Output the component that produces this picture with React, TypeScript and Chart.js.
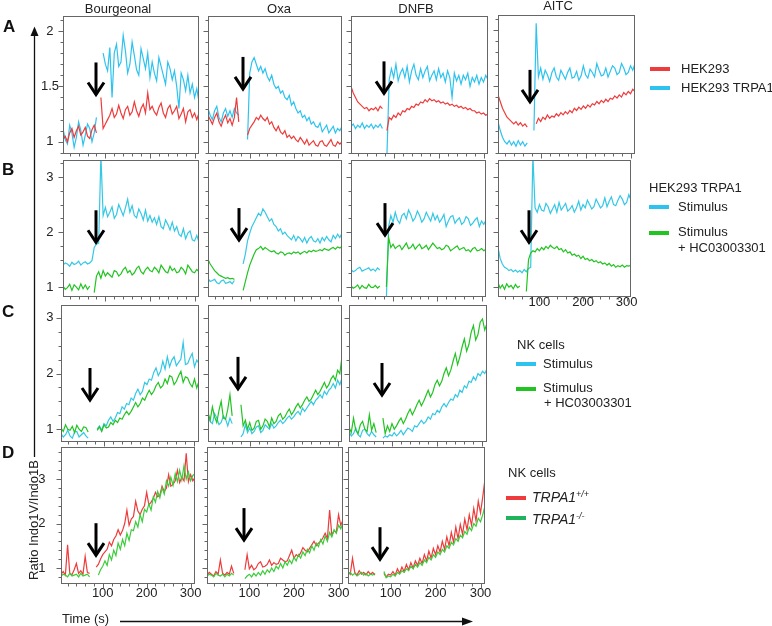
import React, { useEffect, useRef } from 'react';
import { Chart, registerables } from 'chart.js';

Chart.register(...registerables);

// ---------- data ----------
const TIME = [
  5, 10, 15, 20, 25, 30, 35, 40, 45, 50,
  55, 60, 65, 70, 75, 80, 85, 90, 95, 100,
  105, 110, 115, 120, 125, 130, 135, 140, 145, 150,
  155, 160, 165, 170, 175, 180, 185, 190, 195, 200,
  205, 210, 215, 220, 225, 230, 235, 240, 245, 250,
  255, 260, 265, 270, 275, 280, 285, 290, 295, 300,
  305, 310,
];

const X_TICKS = [100, 200, 300];
const Y_TICKS_A = [1, 1.5, 2];
const Y_TICKS_BCD = [1, 2, 3];

const COLUMN_TITLES = ['Bourgeonal', 'Oxa', 'DNFB', 'AITC'];

// Row A: HEK293 (red) / HEK293 TRPA1 (blue)
const A1_HEK293 = [
  1.02, 1.05, 1.00, 1.08, 1.12, 1.04, 1.10, 1.14, 1.06, 1.09,
  1.13, 1.05, 1.03, 1.11, 1.15, 1.08, null, 1.40, 1.12, 1.16,
  1.20, 1.24, 1.30, 1.22, 1.25, 1.33, 1.26, 1.21, 1.29, 1.32,
  1.24, 1.27, 1.36, 1.28, 1.23, 1.30, 1.34, 1.26, 1.44, 1.29,
  1.32, 1.27, 1.24, 1.31, 1.35, 1.26, 1.22, 1.30, 1.33, 1.25,
  1.28, 1.32, 1.21, 1.25, 1.30, 1.18, 1.27, 1.29, 1.22, 1.26,
  1.20, 1.26,
];
const A1_TRPA1 = [
  1.12, 1.02, 0.98, 1.15, 1.08, 0.95, 1.04, 1.18, 1.10, 0.97,
  1.06, 1.16, 1.12, 1.00, 1.08, 1.22, null, null, 1.80, 1.70,
  1.64, 1.85, 1.40, 1.80, 1.88, 1.68, 1.72, 1.96, 1.82, 1.62,
  1.70, 1.90, 1.78, 1.65, 1.60, 1.84, 1.75, 1.66, 1.80, 1.58,
  1.72, 1.62, 1.55, 1.76, 1.68, 1.60, 1.52, 1.72, 1.66, 1.56,
  1.64, 1.50, 1.30, 1.62, 1.56, 1.46, 1.60, 1.44, 1.52, 1.40,
  1.48, 1.36,
];
const A2_HEK293 = [
  1.24, 1.20, 1.16, 1.22, 1.26, 1.18, 1.14, 1.20, 1.24, 1.17,
  1.21, 1.15, 1.22, 1.40, 1.18, null, null, null, 1.06, 1.12,
  1.15, 1.18, 1.22, 1.20, 1.24, 1.21, 1.19, 1.22, 1.16, 1.18,
  1.13, 1.10, 1.14, 1.09, 1.07, 1.10, 1.04, 1.06, 1.03, 1.05,
  1.02, 1.00, 1.04, 1.01, 0.98, 1.02, 0.97, 0.99, 1.01, 0.97,
  0.96, 1.00, 1.01, 0.97, 0.96, 0.99, 1.02, 0.97, 0.96, 1.00,
  0.98, 1.00,
];
const A2_TRPA1 = [
  1.30, 1.24, 1.20, 1.28, 1.32, 1.22, 1.18, 1.26, 1.30, 1.23,
  1.28, 1.22, 1.30, 1.26, 1.24, null, null, null, 1.02, 1.62,
  1.72, 1.76, 1.70, 1.64, 1.68, 1.62, 1.66, 1.59, 1.55, 1.60,
  1.52, 1.48, 1.50, 1.44, 1.46, 1.40, 1.38, 1.42, 1.33, 1.36,
  1.30, 1.26, 1.28, 1.22, 1.24, 1.19, 1.22, 1.16, 1.18, 1.14,
  1.13, 1.17, 1.09, 1.12, 1.15, 1.08, 1.11, 1.14, 1.08, 1.12,
  1.10, 1.14,
];
const A3_HEK293 = [
  1.50, 1.44, 1.40, 1.36, 1.34, 1.32, 1.30, 1.31, 1.28, 1.30,
  1.29, 1.31, 1.28, 1.32, 1.30, null, 1.10, 1.22, 1.20, 1.24,
  1.22, 1.26, 1.24, 1.28, 1.27, 1.30, 1.29, 1.32, 1.31, 1.34,
  1.33, 1.36, 1.35, 1.38, 1.36, 1.39, 1.37, 1.38, 1.36, 1.37,
  1.35, 1.36, 1.34, 1.35, 1.33, 1.34, 1.32, 1.33, 1.31, 1.32,
  1.30, 1.31, 1.29, 1.30, 1.28, 1.28, 1.26, 1.27, 1.25, 1.26,
  1.24, 1.25,
];
const A3_TRPA1 = [
  1.14, 1.16, 1.12, 1.15, 1.13, 1.17, 1.12, 1.15, 1.13, 1.16,
  1.12, 1.15, 1.13, 1.16, 1.12, null, 0.88, 1.56, 1.66, 1.58,
  1.70, 1.55, 1.62, 1.66, 1.58, 1.68, 1.54, 1.64, 1.70, 1.60,
  1.56, 1.66, 1.58, 1.64, 1.68, 1.55, 1.60, 1.64, 1.56, 1.66,
  1.58, 1.62, 1.54, 1.64, 1.58, 1.40, 1.62, 1.55, 1.60, 1.52,
  1.60, 1.56, 1.62, 1.50, 1.58, 1.54, 1.60, 1.52, 1.58, 1.54,
  1.60, 1.56,
];
const A4_HEK293 = [
  1.42, 1.36, 1.30, 1.26, 1.22, 1.20, 1.18, 1.16, 1.18, 1.15,
  1.17, 1.14, 1.16, 1.13, null, null, null, 1.16, 1.21, 1.18,
  1.22, 1.20, 1.24, 1.21, 1.23, 1.22, 1.25, 1.23, 1.26, 1.24,
  1.27, 1.25, 1.28, 1.26, 1.30, 1.28, 1.31, 1.29, 1.32, 1.30,
  1.33, 1.31, 1.34, 1.33, 1.36, 1.34, 1.37, 1.35, 1.38, 1.36,
  1.39, 1.38, 1.41, 1.39, 1.42, 1.40, 1.44, 1.42, 1.45, 1.43,
  1.47, 1.45,
];
const A4_TRPA1 = [
  1.18, 1.10, 1.04, 1.00, 0.98, 1.01, 0.97, 1.00, 0.96, 1.01,
  0.97, 1.00, 0.96, 0.99, null, null, 1.10, 2.06, 1.58, 1.66,
  1.56, 1.64, 1.60, 1.54, 1.62, 1.66, 1.58, 1.55, 1.64, 1.60,
  1.56, 1.62, 1.66, 1.57, 1.58, 1.63, 1.55, 1.59, 1.68, 1.60,
  1.57, 1.65, 1.62, 1.58, 1.70, 1.64, 1.59, 1.60, 1.66, 1.58,
  1.63, 1.68, 1.66, 1.60, 1.62, 1.70, 1.66, 1.60, 1.62, 1.68,
  1.64, 1.70,
];

// Row B: HEK293 TRPA1, Stimulus (blue) / Stimulus + HC03003301 (green)
const B1_STIM = [
  1.40, 1.44, 1.42, 1.38, 1.45, 1.41, 1.43, 1.47, 1.40, 1.44,
  1.46, 1.42, 1.44, 1.48, 1.72, 1.78, 1.80, 3.40, 2.30, 2.45,
  2.28, 2.36, 2.46, 2.25, 2.32, 2.50, 2.40, 2.30, 2.44, 2.60,
  2.36, 2.48, 2.30, 2.26, 2.42, 2.34, 2.22, 2.40, 2.20, 2.30,
  2.18, 2.26, 2.14, 2.28, 2.10, 2.06, 2.22, 2.14, 2.04, 2.18,
  2.02, 2.10, 1.96, 1.92, 2.06, 1.88, 1.98, 2.02, 1.86, 1.84,
  1.94, 1.82,
];
const B1_HC = [
  1.02, 0.96, 0.99, 1.05, 0.94, 1.04, 1.00, 0.95, 1.06, 0.97,
  1.04, 0.96, 1.02, null, 0.90, 1.20, 1.28, 1.16, 1.30, 1.20,
  1.26, 1.22, 1.18, 1.30, 1.28, 1.20, 1.24, 1.32, 1.36, 1.26,
  1.30, 1.22, 1.26, 1.34, 1.38, 1.28, 1.24, 1.32, 1.36, 1.30,
  1.28, 1.36, 1.32, 1.26, 1.40, 1.34, 1.28, 1.26, 1.38, 1.30,
  1.34, 1.26, 1.28, 1.36, 1.32, 1.24, 1.40, 1.34, 1.28, 1.26,
  1.32, 1.28,
];
const B2_STIM = [
  1.16, 1.10, 1.12, 1.14, 1.08, 1.06, 1.11, 1.13, 1.07, 1.08,
  1.10, 1.06, 1.12, null, null, null, 1.42, 1.60, 1.84, 1.98,
  2.10, 2.18, 2.26, 2.34, 2.30, 2.42, 2.36, 2.28, 2.20, 2.24,
  2.14, 2.10, 2.02, 2.06, 1.96, 2.00, 1.94, 1.90, 1.86, 1.94,
  1.84, 1.92, 1.88, 1.82, 1.90, 1.80, 1.88, 1.92, 1.84, 1.82,
  1.88, 1.80, 1.90, 1.84, 1.92, 1.86, 1.82, 1.94, 1.88, 1.96,
  1.90, 1.98,
];
const B2_HC = [
  1.50, 1.42, 1.36, 1.30, 1.26, 1.22, 1.20, 1.18, 1.16, 1.17,
  1.15, 1.16, 1.14, null, null, null, 0.94, 1.10, 1.26, 1.40,
  1.50, 1.60, 1.68, 1.70, 1.74, 1.68, 1.72, 1.69, 1.66, 1.64,
  1.66, 1.62, 1.60, 1.64, 1.63, 1.58, 1.61, 1.62, 1.60, 1.64,
  1.62, 1.64, 1.60, 1.63, 1.65, 1.62, 1.66, 1.64, 1.67, 1.65,
  1.66, 1.68, 1.66, 1.70, 1.68, 1.67, 1.70, 1.72, 1.69, 1.73,
  1.71, 1.74,
];
const B3_STIM = [
  1.32, 1.28, 1.30, 1.34, 1.36, 1.29, 1.31, 1.33, 1.35, 1.30,
  1.33, 1.29, 1.35, 1.31, null, null, 0.80, 2.10, 2.30, 2.18,
  2.36, 2.22, 2.16, 2.30, 2.34, 2.24, 2.40, 2.32, 2.20, 2.26,
  2.38, 2.30, 2.18, 2.24, 2.36, 2.28, 2.20, 2.34, 2.22, 2.30,
  2.18, 2.24, 2.32, 2.10, 2.20, 2.28, 2.30, 2.16, 2.22, 2.26,
  2.14, 2.18, 2.28, 2.24, 2.12, 2.16, 2.22, 2.26, 2.10, 2.20,
  2.14, 2.22,
];
const B3_HC = [
  1.02, 0.98, 1.00, 1.04, 0.97, 1.03, 0.99, 0.98, 1.05, 1.00,
  0.99, 1.03, 0.98, 1.02, null, null, 1.00, 1.90, 1.72, 1.78,
  1.70, 1.74, 1.76, 1.68, 1.74, 1.80, 1.70, 1.72, 1.78, 1.69,
  1.74, 1.78, 1.70, 1.72, 1.76, 1.68, 1.74, 1.80, 1.75, 1.70,
  1.72, 1.68, 1.70, 1.76, 1.74, 1.66, 1.69, 1.72, 1.75, 1.68,
  1.70, 1.72, 1.66, 1.68, 1.64, 1.70, 1.72, 1.66, 1.67, 1.70,
  1.66, 1.69,
];
const B4_STIM = [
  1.72, 1.52, 1.42, 1.36, 1.34, 1.30, 1.32, 1.28, 1.31, 1.27,
  1.30, 1.26, 1.32, 1.28, 1.34, 1.36, 3.40, 2.44, 2.36, 2.50,
  2.40, 2.38, 2.52, 2.46, 2.34, 2.42, 2.50, 2.36, 2.54, 2.40,
  2.46, 2.52, 2.38, 2.42, 2.48, 2.36, 2.44, 2.56, 2.40, 2.50,
  2.44, 2.58, 2.50, 2.42, 2.46, 2.60, 2.52, 2.44, 2.48, 2.62,
  2.46, 2.56, 2.64, 2.50, 2.48, 2.58, 2.66, 2.60, 2.50, 2.54,
  2.68, 2.58,
];
const B4_HC = [
  1.08, 0.98, 1.04, 0.96, 1.06, 1.00, 1.03, 0.97, 1.05, 0.99,
  1.02, null, null, 0.92, 1.50, 1.62, 1.66, 1.64, 1.70, 1.66,
  1.72, 1.68, 1.74, 1.70, 1.76, 1.72, 1.70, 1.74, 1.68, 1.70,
  1.64, 1.68, 1.62, 1.64, 1.58, 1.60, 1.56, 1.58, 1.52, 1.56,
  1.50, 1.52, 1.48, 1.50, 1.46, 1.48, 1.44, 1.46, 1.42, 1.44,
  1.40, 1.43, 1.38, 1.41, 1.36, 1.39, 1.37, 1.40, 1.36, 1.39,
  1.38, 1.40,
];

// Row C: NK cells, Stimulus (blue) / Stimulus + HC03003301 (green)
const C1_STIM = [
  0.92, 0.86, 0.90, 0.98, 0.88, 0.84, 0.95, 0.96, 0.86, 0.90,
  0.94, 0.88, 0.84, null, null, null, 1.00, 1.06, 0.98, 1.10,
  1.06, 1.16, 1.22, 1.14, 1.20, 1.30, 1.28, 1.40, 1.36, 1.46,
  1.44, 1.56, 1.52, 1.64, 1.72, 1.62, 1.68, 1.84, 1.80, 1.90,
  1.88, 2.02, 2.10, 1.96, 2.04, 2.22, 2.08, 2.30, 2.12, 2.24,
  2.30, 2.14, 2.20, 2.26, 2.56, 2.16, 2.18, 2.28, 2.36, 2.12,
  2.24, 2.18,
];
const C1_HC = [
  1.02, 0.96, 1.08, 1.00, 0.98, 1.05, 0.94, 1.07, 1.00, 0.96,
  1.04, 1.03, 0.95, null, null, null, 0.98, 1.04, 0.96, 1.08,
  1.02, 1.04, 1.12, 1.08, 1.16, 1.12, 1.20, 1.18, 1.26, 1.32,
  1.26, 1.32, 1.40, 1.48, 1.40, 1.46, 1.56, 1.52, 1.62, 1.70,
  1.62, 1.68, 1.78, 1.84, 1.74, 1.78, 1.90, 1.82, 1.96, 1.94,
  1.80, 1.86, 1.96, 2.04, 1.84, 1.94, 1.92, 1.82, 1.76, 1.90,
  1.74, 1.86,
];
const C2_STIM = [
  1.22, 1.14, 1.10, 1.28, 1.20, 1.08, 1.12, 1.24, 1.18, 1.06,
  1.20, 1.10, null, null, null, 0.86, 0.92, 1.08, 0.94, 1.02,
  0.92, 0.96, 1.04, 1.06, 0.94, 0.98, 1.08, 1.04, 1.00, 1.10,
  1.02, 1.06, 1.12, 1.16, 1.10, 1.14, 1.20, 1.24, 1.18, 1.22,
  1.28, 1.32, 1.26, 1.38, 1.32, 1.38, 1.44, 1.50, 1.44, 1.52,
  1.56, 1.62, 1.56, 1.68, 1.62, 1.70, 1.74, 1.82, 1.74, 1.88,
  1.80, 1.92,
];
const C2_HC = [
  1.30, 1.16, 1.40, 1.22, 1.12, 1.34, 1.50, 1.20, 1.18, 1.36,
  1.62, 1.24, null, null, null, 1.44, 1.06, 1.16, 1.00, 1.12,
  0.98, 1.02, 1.14, 1.16, 1.00, 1.06, 1.18, 1.14, 1.04, 1.20,
  1.10, 1.14, 1.24, 1.28, 1.18, 1.22, 1.30, 1.36, 1.26, 1.32,
  1.40, 1.46, 1.38, 1.44, 1.52, 1.58, 1.50, 1.54, 1.62, 1.70,
  1.62, 1.68, 1.76, 1.84, 1.74, 1.80, 1.90, 1.96, 1.88, 2.06,
  2.00, 2.30,
];
const C3_STIM = [
  0.96, 0.88, 0.92, 1.02, 0.90, 0.86, 0.98, 1.00, 0.92, 0.88,
  0.96, 0.90, 0.86, null, null, 0.84, 0.88, 0.86, 0.90, 0.88,
  0.94, 0.88, 0.92, 0.98, 0.90, 0.96, 1.02, 1.00, 0.96, 1.06,
  1.04, 1.10, 1.16, 1.10, 1.14, 1.22, 1.18, 1.28, 1.26, 1.34,
  1.30, 1.40, 1.46, 1.40, 1.48, 1.54, 1.52, 1.62, 1.58, 1.70,
  1.66, 1.78, 1.74, 1.86, 1.84, 1.94, 1.88, 2.00, 1.96, 2.04,
  2.00, 2.08,
];
const C3_HC = [
  1.04, 0.94, 1.20, 0.98, 0.92, 1.08, 1.14, 1.00, 0.96, 1.26,
  0.98, 1.10, 0.94, null, null, 1.20, 0.92, 1.06, 0.96, 1.10,
  1.00, 1.06, 1.14, 1.20, 1.10, 1.18, 1.28, 1.36, 1.26, 1.34,
  1.44, 1.52, 1.42, 1.50, 1.60, 1.70, 1.58, 1.66, 1.80, 1.88,
  1.78, 1.86, 2.00, 2.10, 1.96, 2.06, 2.22, 2.36, 2.16, 2.30,
  2.48, 2.62, 2.40, 2.52, 2.74, 2.86, 2.60, 2.70, 2.92, 2.98,
  2.78, 2.90,
];

// Row D: NK cells, TRPA1+/+ (red) / TRPA1-/- (green)
const D1_WT = [
  0.86, 0.92, 0.84, 1.52, 0.88, 0.85, 0.96, 1.10, 0.88, 0.94,
  0.86, 1.26, 0.90, 0.88, null, null, 1.02, 1.08, 1.20, 1.30,
  1.36, 1.42, 1.58, 1.50, 1.64, 1.72, 1.86, 1.74, 1.84, 2.00,
  2.30, 1.96, 2.10, 2.16, 2.50, 2.28, 2.20, 2.32, 2.40, 2.70,
  2.42, 2.48, 2.56, 2.70, 2.60, 2.64, 2.84, 2.72, 2.80, 3.10,
  2.84, 2.88, 2.96, 3.20, 2.92, 3.04, 2.96, 3.58, 2.94, 3.10,
  2.96, 3.04,
];
const D1_KO = [
  0.82, 0.86, 0.84, 0.80, 0.88, 0.82, 0.84, 0.86, 0.80, 0.88,
  0.82, 0.84, 0.86, 0.80, null, null, null, 0.84, 0.96, 1.04,
  1.16, 1.06, 1.30, 1.18, 1.40, 1.28, 1.56, 1.42, 1.64, 1.50,
  1.78, 1.62, 1.86, 1.84, 2.04, 1.92, 2.20, 2.04, 2.32, 2.26,
  2.44, 2.30, 2.60, 2.48, 2.72, 2.58, 2.80, 2.66, 2.96, 2.84,
  3.04, 2.86, 3.12, 2.94, 3.20, 2.98, 3.30, 3.00, 3.16, 2.96,
  3.08, 3.12,
];
const D2_WT = [
  0.84, 0.90, 0.86, 0.82, 0.92, 0.86, 1.18, 0.88, 0.84, 0.90,
  0.86, 1.04, 0.88, null, null, null, null, 0.96, 1.30, 0.98,
  1.06, 0.96, 1.00, 1.10, 1.14, 1.02, 1.04, 1.08, 1.18, 1.06,
  1.12, 1.08, 1.10, 1.22, 1.18, 1.14, 1.16, 1.28, 1.40, 1.22,
  1.30, 1.26, 1.34, 1.46, 1.40, 1.36, 1.44, 1.52, 1.60, 1.50,
  1.56, 1.60, 1.68, 1.78, 1.66, 2.30, 1.74, 1.84, 1.80, 2.20,
  1.96, 2.08,
];
const D2_KO = [
  0.82, 0.86, 0.84, 0.80, 0.88, 0.84, 0.82, 0.86, 0.80, 0.86,
  0.82, 0.88, 0.84, null, null, null, null, 0.76, 0.82, 0.86,
  0.80, 0.88, 0.82, 0.90, 0.84, 0.94, 0.86, 0.96, 0.90, 1.00,
  0.92, 1.04, 0.98, 1.10, 1.00, 1.14, 1.06, 1.18, 1.10, 1.24,
  1.16, 1.30, 1.22, 1.36, 1.28, 1.42, 1.34, 1.50, 1.40, 1.56,
  1.48, 1.64, 1.54, 1.72, 1.60, 1.80, 1.70, 1.86, 1.78, 1.96,
  1.88, 2.02,
];
const D3_WT = [
  0.92, 0.86, 1.22, 0.90, 0.84, 0.94, 0.86, 0.90, 0.84, 0.92,
  0.86, 0.90, 0.84, null, null, null, 0.88, 0.80, 0.86, 0.84,
  0.92, 0.84, 0.98, 0.88, 1.02, 0.92, 1.08, 0.96, 1.12, 1.00,
  1.16, 1.06, 1.22, 1.10, 1.30, 1.16, 1.38, 1.22, 1.44, 1.30,
  1.50, 1.36, 1.60, 1.42, 1.70, 1.50, 1.80, 1.58, 1.92, 1.66,
  1.98, 1.76, 2.10, 1.86, 2.20, 1.96, 2.34, 2.06, 2.50, 2.24,
  2.60, 3.00,
];
const D3_KO = [
  0.86, 0.90, 0.84, 0.88, 0.82, 0.86, 0.90, 0.84, 0.88, 0.82,
  0.86, 0.84, 0.88, null, null, null, 0.92, 0.78, 0.82, 0.80,
  0.86, 0.82, 0.90, 0.86, 0.94, 0.90, 0.98, 0.94, 1.04, 0.98,
  1.08, 1.02, 1.12, 1.06, 1.18, 1.12, 1.24, 1.18, 1.30, 1.24,
  1.36, 1.30, 1.42, 1.36, 1.50, 1.44, 1.58, 1.52, 1.66, 1.60,
  1.74, 1.68, 1.82, 1.76, 1.92, 1.84, 2.00, 1.94, 2.12, 2.04,
  2.20, 2.40,
];

// stimulus arrows (tip time, tip value), one per panel A1..A4, B1..B4, C1..C3, D1..D3
const ARROW_T = [79, 85, 79, 77, 79, 76, 81, 77, 69, 73, 77, 84, 87, 77];
const ARROW_V = [1.40, 1.45, 1.41, 1.33, 1.76, 1.80, 1.89, 1.76, 1.47, 1.67, 1.56, 1.22, 1.56, 1.13];

// ---------- styles ----------
const FONT = "'Liberation Sans', Arial, Helvetica, sans-serif";
const RED = '#ee3b3b';
const BLUE = '#2ec3ef';
const CYAN = '#35c8e4';
const GREEN = '#22c422';
const DGREEN = '#3ccc3c';
const LEG_DGREEN = '#1fb45c';
const FRAME = '#666666';

const ROWS: any = {
  A: { yMin: 0.89, yMax: 2.135, ticks: Y_TICKS_A, minor: 0.1, major: 0.5, labelPad: 4 },
  B: { yMin: 0.82, yMax: 3.31, ticks: Y_TICKS_BCD, minor: 0.25, major: 1, labelPad: 9.4 },
  C: { yMin: 0.77, yMax: 3.23, ticks: Y_TICKS_BCD, minor: 0.25, major: 1, labelPad: 7.4 },
  D: { yMin: 0.64, yMax: 3.72, ticks: Y_TICKS_BCD, minor: 0.2, major: 1, labelPad: 15.4 },
};

const PANELS: any[] = [
  { row: 'A', box: [63, 16, 199, 154], yLabels: true, xLabels: false, series: [[A1_HEK293, RED], [A1_TRPA1, BLUE]] },
  { row: 'A', box: [208, 16, 342, 154], yLabels: false, xLabels: false, series: [[A2_HEK293, RED], [A2_TRPA1, BLUE]] },
  { row: 'A', box: [351, 16, 488, 154], yLabels: false, xLabels: false, series: [[A3_HEK293, RED], [A3_TRPA1, BLUE]] },
  { row: 'A', box: [498, 15, 635, 154], yLabels: false, xLabels: false, series: [[A4_HEK293, RED], [A4_TRPA1, BLUE]] },
  { row: 'B', box: [63, 160, 199, 297], yLabels: true, xLabels: false, series: [[B1_HC, GREEN], [B1_STIM, CYAN]] },
  { row: 'B', box: [208, 160, 342, 297], yLabels: false, xLabels: false, series: [[B2_HC, GREEN], [B2_STIM, CYAN]] },
  { row: 'B', box: [351, 160, 486, 297], yLabels: false, xLabels: false, series: [[B3_HC, GREEN], [B3_STIM, CYAN]] },
  { row: 'B', box: [498, 160, 631, 297], yLabels: false, xLabels: true, xPad: -2.5, series: [[B4_HC, GREEN], [B4_STIM, CYAN]] },
  { row: 'C', box: [61, 305, 199, 442], yLabels: true, xLabels: false, series: [[C1_HC, GREEN], [C1_STIM, CYAN]] },
  { row: 'C', box: [208, 305, 342, 442], yLabels: false, xLabels: false, series: [[C2_HC, GREEN], [C2_STIM, CYAN]] },
  { row: 'C', box: [349, 305, 487, 442], yLabels: false, xLabels: false, series: [[C3_HC, GREEN], [C3_STIM, CYAN]] },
  { row: 'D', box: [61, 447, 195, 584], yLabels: true, xLabels: true, xPad: 2, series: [[D1_KO, DGREEN], [D1_WT, RED]] },
  { row: 'D', box: [207, 447, 343, 584], yLabels: false, xLabels: true, xPad: 2, series: [[D2_KO, DGREEN], [D2_WT, RED]] },
  { row: 'D', box: [348, 447, 485, 584], yLabels: false, xLabels: true, xPad: 2, series: [[D3_KO, DGREEN], [D3_WT, RED]] },
];

const decorPlugin = {
  id: 'decor',
  afterDatasetsDraw(chart: any, _args: any, opts: any) {
    const { ctx, chartArea, scales } = chart;
    const { left, right, top, bottom } = chartArea;
    const xs = scales.x;
    const ys = scales.y;
    ctx.save();
    ctx.strokeStyle = FRAME;
    ctx.lineWidth = 1;
    const L = Math.round(left) + 0.5;
    const T = Math.round(top) + 0.5;
    const R = Math.round(right) - 0.5;
    const B = Math.round(bottom) - 0.5;
    ctx.strokeRect(L, T, R - L, B - T);
    ctx.beginPath();
    const kMin = Math.ceil(opts.yMin / opts.minor - 1e-6);
    const kMax = Math.floor(opts.yMax / opts.minor + 1e-6);
    for (let k = kMin; k <= kMax; k++) {
      const v = k * opts.minor;
      const isMajor = Math.abs(v / opts.major - Math.round(v / opts.major)) < 1e-6;
      const py = Math.round(ys.getPixelForValue(v)) + 0.5;
      ctx.moveTo(L, py);
      ctx.lineTo(L - (isMajor ? 5 : 3), py);
    }
    for (let t = 20; t <= 300; t += 20) {
      const px = Math.round(xs.getPixelForValue(t)) + 0.5;
      ctx.moveTo(px, B);
      ctx.lineTo(px, B + 3);
    }
    for (const t of X_TICKS) {
      const px = Math.round(xs.getPixelForValue(t)) + 0.5;
      ctx.moveTo(px, B);
      ctx.lineTo(px, B + 5);
    }
    ctx.stroke();
    // stimulus arrow
    const ax = Math.round(xs.getPixelForValue(opts.arrowT));
    const ay = ys.getPixelForValue(opts.arrowV);
    ctx.strokeStyle = '#000';
    ctx.lineWidth = 3;
    ctx.lineCap = 'butt';
    ctx.lineJoin = 'miter';
    ctx.beginPath();
    ctx.moveTo(ax, ay - 35);
    ctx.lineTo(ax, ay - 3);
    ctx.stroke();
    ctx.beginPath();
    ctx.moveTo(ax - 8, ay - 15);
    ctx.lineTo(ax, ay - 3);
    ctx.lineTo(ax + 8, ay - 15);
    ctx.stroke();
    ctx.restore();
  },
};

function Panel({ p, index }: { p: any; index: number }) {
  const ref = useRef<HTMLCanvasElement>(null);
  const row = ROWS[p.row];
  const [l, t, r, b] = p.box;
  const padL = p.yLabels ? 60 : 8;
  const padT = 26;
  const padR = 16;
  const padB = 26;
  const W = r - l + padL + padR;
  const H = b - t + padT + padB;

  useEffect(() => {
    if (!ref.current) return;
    const tickFont = { family: FONT, size: 13 };
    const chart = new Chart(ref.current, {
      type: 'line',
      data: {
        labels: TIME,
        datasets: p.series.map(([data, color]: any) => ({
          data,
          borderColor: color,
          backgroundColor: color,
          borderWidth: 1.2,
          pointRadius: 0,
          tension: 0,
          spanGaps: false,
          fill: false,
        })),
      },
      options: {
        animation: false,
        responsive: false,
        maintainAspectRatio: false,
        events: [],
        layout: { padding: { top: padT, right: padR, left: 0, bottom: 0 } },
        plugins: {
          legend: { display: false },
          tooltip: { enabled: false },
          decor: {
            yMin: row.yMin,
            yMax: row.yMax,
            minor: row.minor,
            major: row.major,
            arrowT: ARROW_T[index],
            arrowV: ARROW_V[index],
          },
        } as any,
        scales: {
          x: {
            type: 'linear',
            min: 5,
            max: 310,
            grid: { display: false, drawTicks: false },
            border: { display: false },
            ticks: {
              display: p.xLabels,
              padding: p.xPad ?? 2,
              font: tickFont,
              color: '#222',
              maxRotation: 0,
              autoSkip: false,
              callback: (v: any) => String(v),
            },
            afterBuildTicks: (s: any) => {
              s.ticks = X_TICKS.map((v) => ({ value: v }));
            },
            afterFit: (s: any) => {
              s.height = padB;
            },
          },
          y: {
            type: 'linear',
            min: row.yMin,
            max: row.yMax,
            grid: { display: false, drawTicks: false },
            border: { display: false },
            ticks: {
              display: p.yLabels,
              padding: row.labelPad,
              crossAlign: 'center',
              font: tickFont,
              color: '#222',
              callback: (v: any) => String(v),
            },
            afterBuildTicks: (s: any) => {
              s.ticks = row.ticks.map((v: number) => ({ value: v }));
            },
            afterFit: (s: any) => {
              s.width = padL;
            },
          },
        },
      } as any,
      plugins: [decorPlugin],
    });
    return () => chart.destroy();
  }, []);

  return (
    <canvas
      ref={ref}
      width={W}
      height={H}
      style={{ position: 'absolute', left: l - padL, top: t - padT, width: W, height: H }}
    />
  );
}

function Txt({ x, y, children, center, style }: any) {
  return (
    <div
      style={{
        position: 'absolute',
        left: x,
        top: y,
        transform: center ? 'translate(-50%, -50%)' : 'translateY(-50%)',
        whiteSpace: 'nowrap',
        lineHeight: 1,
        fontSize: 13,
        ...style,
      }}
    >
      {children}
    </div>
  );
}

function Swatch({ x, y, color, w = 20 }: any) {
  return <div style={{ position: 'absolute', left: x, top: y - 2, width: w, height: 4, background: color }} />;
}

export default function App() {
  const colX = [118, 279, 416, 558];
  const colY = [8, 8, 8, 5];
  return (
    <div
      style={{
        position: 'fixed',
        left: 0,
        top: 0,
        width: 772,
        height: 626,
        background: '#fff',
        overflow: 'hidden',
        fontFamily: FONT,
        color: '#222',
      }}
    >
      {PANELS.map((p, i) => (
        <Panel key={i} p={p} index={i} />
      ))}

      {COLUMN_TITLES.map((ttl, i) => (
        <Txt key={ttl} x={colX[i]} y={colY[i]} center>
          {ttl}
        </Txt>
      ))}

      <Txt x={3} y={26} style={{ fontSize: 17, fontWeight: 'bold', color: '#111' }}>A</Txt>
      <Txt x={2} y={169} style={{ fontSize: 17, fontWeight: 'bold', color: '#111' }}>B</Txt>
      <Txt x={2} y={311} style={{ fontSize: 17, fontWeight: 'bold', color: '#111' }}>C</Txt>
      <Txt x={2} y={452} style={{ fontSize: 17, fontWeight: 'bold', color: '#111' }}>D</Txt>

      <Swatch x={650} y={69} color={RED} />
      <Txt x={681} y={68}>HEK293</Txt>
      <Swatch x={650} y={88} color={BLUE} />
      <Txt x={681} y={87}>HEK293 TRPA1</Txt>

      <Txt x={649} y={187}>HEK293 TRPA1</Txt>
      <Swatch x={649} y={207} color={BLUE} />
      <Txt x={678} y={206}>Stimulus</Txt>
      <Swatch x={649} y={233} color={GREEN} />
      <Txt x={678} y={231}>Stimulus</Txt>
      <Txt x={678} y={247}>+ HC03003301</Txt>

      <Txt x={517} y={344}>NK cells</Txt>
      <Swatch x={516} y={364} color={BLUE} />
      <Txt x={543} y={363}>Stimulus</Txt>
      <Swatch x={516} y={389} color={GREEN} />
      <Txt x={543} y={387}>Stimulus</Txt>
      <Txt x={544} y={402}>+ HC03003301</Txt>

      <Txt x={508} y={472}>NK cells</Txt>
      <Swatch x={506} y={498} color={RED} />
      <Txt x={532} y={497} style={{ fontStyle: 'italic', fontSize: 14 }}>
        TRPA1<sup style={{ fontSize: 9, verticalAlign: 5 }}>+/+</sup>
      </Txt>
      <Swatch x={506} y={518} color={LEG_DGREEN} />
      <Txt x={532} y={519} style={{ fontStyle: 'italic', fontSize: 14 }}>
        TRPA1<sup style={{ fontSize: 9, verticalAlign: 5 }}>-/-</sup>
      </Txt>

      <Txt x={33} y={520} center style={{ transform: 'translate(-50%, -50%) rotate(-90deg)' }}>
        Ratio Indo1V/Indo1B
      </Txt>
      <Txt x={62} y={618}>Time (s)</Txt>

      <svg
        width={772}
        height={626}
        style={{ position: 'absolute', left: 0, top: 0, pointerEvents: 'none' }}
      >
        <line x1={34.5} y1={34} x2={34.5} y2={457} stroke="#111" strokeWidth={1.3} />
        <polygon points="30.5,36 34.5,26.5 38.5,36" fill="#111" />
        <line x1={120} y1={621.5} x2={464} y2={621.5} stroke="#111" strokeWidth={1.3} />
        <polygon points="462,617.5 473,621.5 462,625.5" fill="#111" />
      </svg>
    </div>
  );
}
